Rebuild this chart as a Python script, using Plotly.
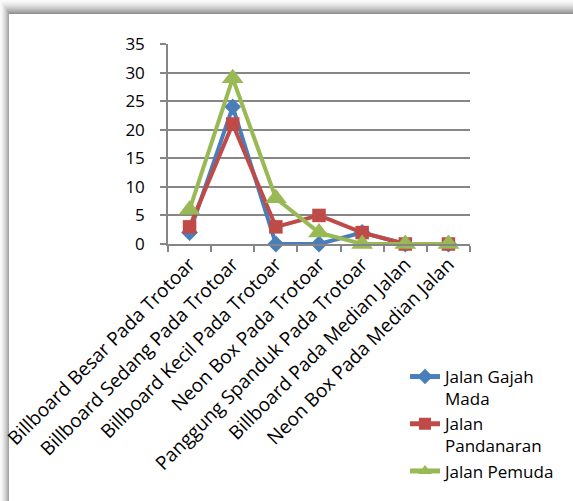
import plotly.graph_objects as go

# Reklame counts per location type along three streets
categories = [
    "Billboard Besar Pada Trotoar",
    "Billboard Sedang Pada Trotoar",
    "Billboard Kecil Pada Trotoar",
    "Neon Box Pada Trotoar",
    "Panggung Spanduk Pada Trotoar",
    "Billboard Pada Median Jalan",
    "Neon Box Pada Median Jalan",
]
gajah_mada = [2, 24, 0, 0, 2, 0, 0]
pandanaran = [3, 21, 3, 5, 2, 0, 0]
pemuda = [6, 29, 8, 2, 0, 0, 0]

series_names = ["Jalan Gajah<br>Mada", "Jalan<br>Pandanaran", "Jalan Pemuda"]
y_ticks = [0, 5, 10, 15, 20, 25, 30, 35]

W, H = 573, 501
ML, MR, MT, MB = 168, 103, 44, 257
PW, PH = W - ML - MR, H - MT - MB

FONT = "Open Sans"
GRID = "#868686"


def px_x(px):
    return (px - ML) / PW


def px_y(py):
    return (H - MB - py) / PH


fig = go.Figure()

styles = [
    ("#4A7EBB", "diamond", 13),
    ("#BE4B48", "square", 13.5),
    ("#98B954", "triangle-up", 19),
]
for name, vals, (color, symbol, size) in zip(series_names, [gajah_mada, pandanaran, pemuda], styles):
    fig.add_trace(go.Scatter(
        x=categories, y=vals, name=name, mode="lines+markers",
        line=dict(color=color, width=4),
        marker=dict(symbol=symbol, size=size, color=color),
        cliponaxis=False,
    ))

# page frame with a soft drop shadow along the top and left edges
shapes = []
for i in range(14):
    g = int(250 - (i / 13) ** 1.5 * 105)
    shapes.append(dict(type="rect", xref="paper", yref="paper",
                       x0=px_x(min(i * 9 / 14, 9)), x1=px_x(W + 5),
                       y0=px_y(i + 1), y1=px_y(i),
                       fillcolor=f"rgb({g},{g},{g})", line=dict(width=0), layer="below"))
for i in range(9):
    g = int(250 - (i / 8) ** 1.5 * 85)
    shapes.append(dict(type="rect", xref="paper", yref="paper",
                       x0=px_x(i), x1=px_x(i + 1),
                       y0=px_y(H + 5), y1=px_y(min(i * 14 / 9, 14)),
                       fillcolor=f"rgb({g},{g},{g})", line=dict(width=0), layer="below"))

fig.update_layout(
    width=W, height=H,
    margin=dict(l=ML, r=MR, t=MT, b=MB),
    paper_bgcolor="white", plot_bgcolor="white",
    font=dict(family=FONT, size=17, color="black"),
    shapes=shapes,
    showlegend=True,
    legend=dict(
        x=px_x(405), y=px_y(359), xanchor="left", yanchor="top",
        font=dict(family=FONT, size=17, color="black"),
        valign="top", itemsizing="constant",
        bgcolor="rgba(0,0,0,0)", tracegroupgap=0,
    ),
    xaxis=dict(
        type="category", range=[-0.5, 6.5], automargin=False,
        showline=True, linecolor=GRID, linewidth=1.5,
        ticks="outside", tickson="boundaries", ticklen=6, tickcolor=GRID, tickwidth=1.5,
        tickangle=-45, showgrid=False,
        tickfont=dict(family=FONT, size=19, color="black"),
    ),
    yaxis=dict(
        range=[0, 35], tickvals=y_ticks, automargin=False,
        showline=True, linecolor=GRID, linewidth=1.5,
        ticks="outside", ticklen=6, tickcolor=GRID, tickwidth=1.5,
        ticklabelstandoff=12,
        showgrid=True, gridcolor=GRID, gridwidth=1.5, zeroline=False,
        tickfont=dict(family=FONT, size=17, color="black"),
    ),
)

fig.write_html("out.html")
